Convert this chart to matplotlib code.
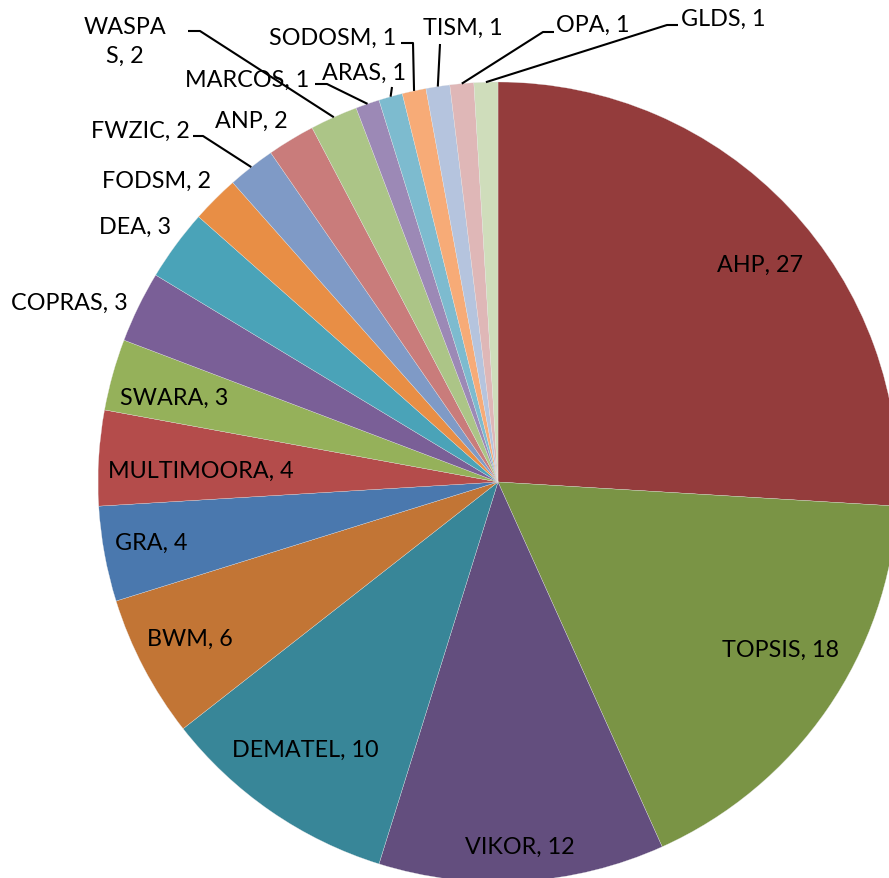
import numpy as np
import matplotlib
matplotlib.use("Agg")
import matplotlib.pyplot as plt

# ---- data ----
methods = ["AHP", "TOPSIS", "VIKOR", "DEMATEL", "BWM", "GRA", "MULTIMOORA",
           "SWARA", "COPRAS", "DEA", "FODSM", "FWZIC", "ANP", "WASPAS",
           "MARCOS", "ARAS", "SODOSM", "TISM", "OPA", "GLDS"]
counts = [27, 18, 12, 10, 6, 4, 4, 3, 3, 3, 2, 2, 2, 2, 1, 1, 1, 1, 1, 1]
colors = ["#943C3C", "#7A9445", "#634E7E", "#388698", "#C27535", "#4A78AE",
          "#B44C4B", "#95B15A", "#7A5F97", "#4AA3B8", "#E88E45", "#7F9AC6",
          "#C97C7B", "#ACC587", "#9C89B6", "#7DBBCF", "#F7AB77", "#B5C4DE",
          "#DFB7B7", "#CFDDBB"]

# ---- layout (pixel space, y measured from top) ----
W, H = 889, 879
CX, CY, R = 498, 483, 400

label_text = {m: f"{m}, {c}" for m, c in zip(methods, counts)}
label_text["WASPAS"] = "WASPA\nS, 2"
label_pos = {
    "AHP": (760, 265), "TOPSIS": (780, 650), "VIKOR": (520, 847),
    "DEMATEL": (305, 750), "BWM": (190, 639), "GRA": (151, 543),
    "MULTIMOORA": (201, 471), "SWARA": (174, 398), "COPRAS": (69, 303),
    "DEA": (135, 227), "FODSM": (156, 181), "FWZIC": (140, 131),
    "ANP": (251, 121), "WASPAS": (125, 42), "MARCOS": (247, 80),
    "ARAS": (364, 73), "SODOSM": (333, 38), "TISM": (463, 28),
    "OPA": (593, 25), "GLDS": (723, 19),
}
leaders = {
    "FWZIC": [(193, 137), (203, 137)],
    "WASPAS": [(188, 32), (200, 32)],
    "MARCOS": [(315, 85), (327, 85)],
    "ARAS": [(392, 88)],
    "SODOSM": [(401, 44), (413, 44)],
    "TISM": [(440, 45)],
    "OPA": [(554, 33), (543, 33)],
    "GLDS": [(678, 26), (667, 26)],
}

plt.rcParams['font.family'] = ['Lato', 'DejaVu Sans']
fig = plt.figure(figsize=(W / 100, H / 100), dpi=100)
ax = fig.add_axes([0, 0, 1, 1])

wedges, _ = ax.pie(counts, colors=colors, startangle=90, counterclock=False,
                   center=(CX, H - CY), radius=R,
                   wedgeprops=dict(edgecolor="#E8E8E8", linewidth=0.2))
ax.set_xlim(0, W)
ax.set_ylim(0, H)
ax.set_aspect("equal")
ax.axis("off")

for w, m in zip(wedges, methods):
    x, y = label_pos[m]
    ax.text(x, H - y, label_text[m], ha="center", va="center",
            fontsize=16.8, color="black", linespacing=1.5)
    if m in leaders:
        mid = np.deg2rad((w.theta1 + w.theta2) / 2)
        ex = CX + R * np.cos(mid)
        ey = (H - CY) + R * np.sin(mid)
        pts = [(px, H - py) for px, py in leaders[m]] + [(ex, ey)]
        xs, ys = zip(*pts)
        ax.plot(xs, ys, color="black", lw=1.5, solid_capstyle="butt")

fig.savefig("out.png", dpi=100)
